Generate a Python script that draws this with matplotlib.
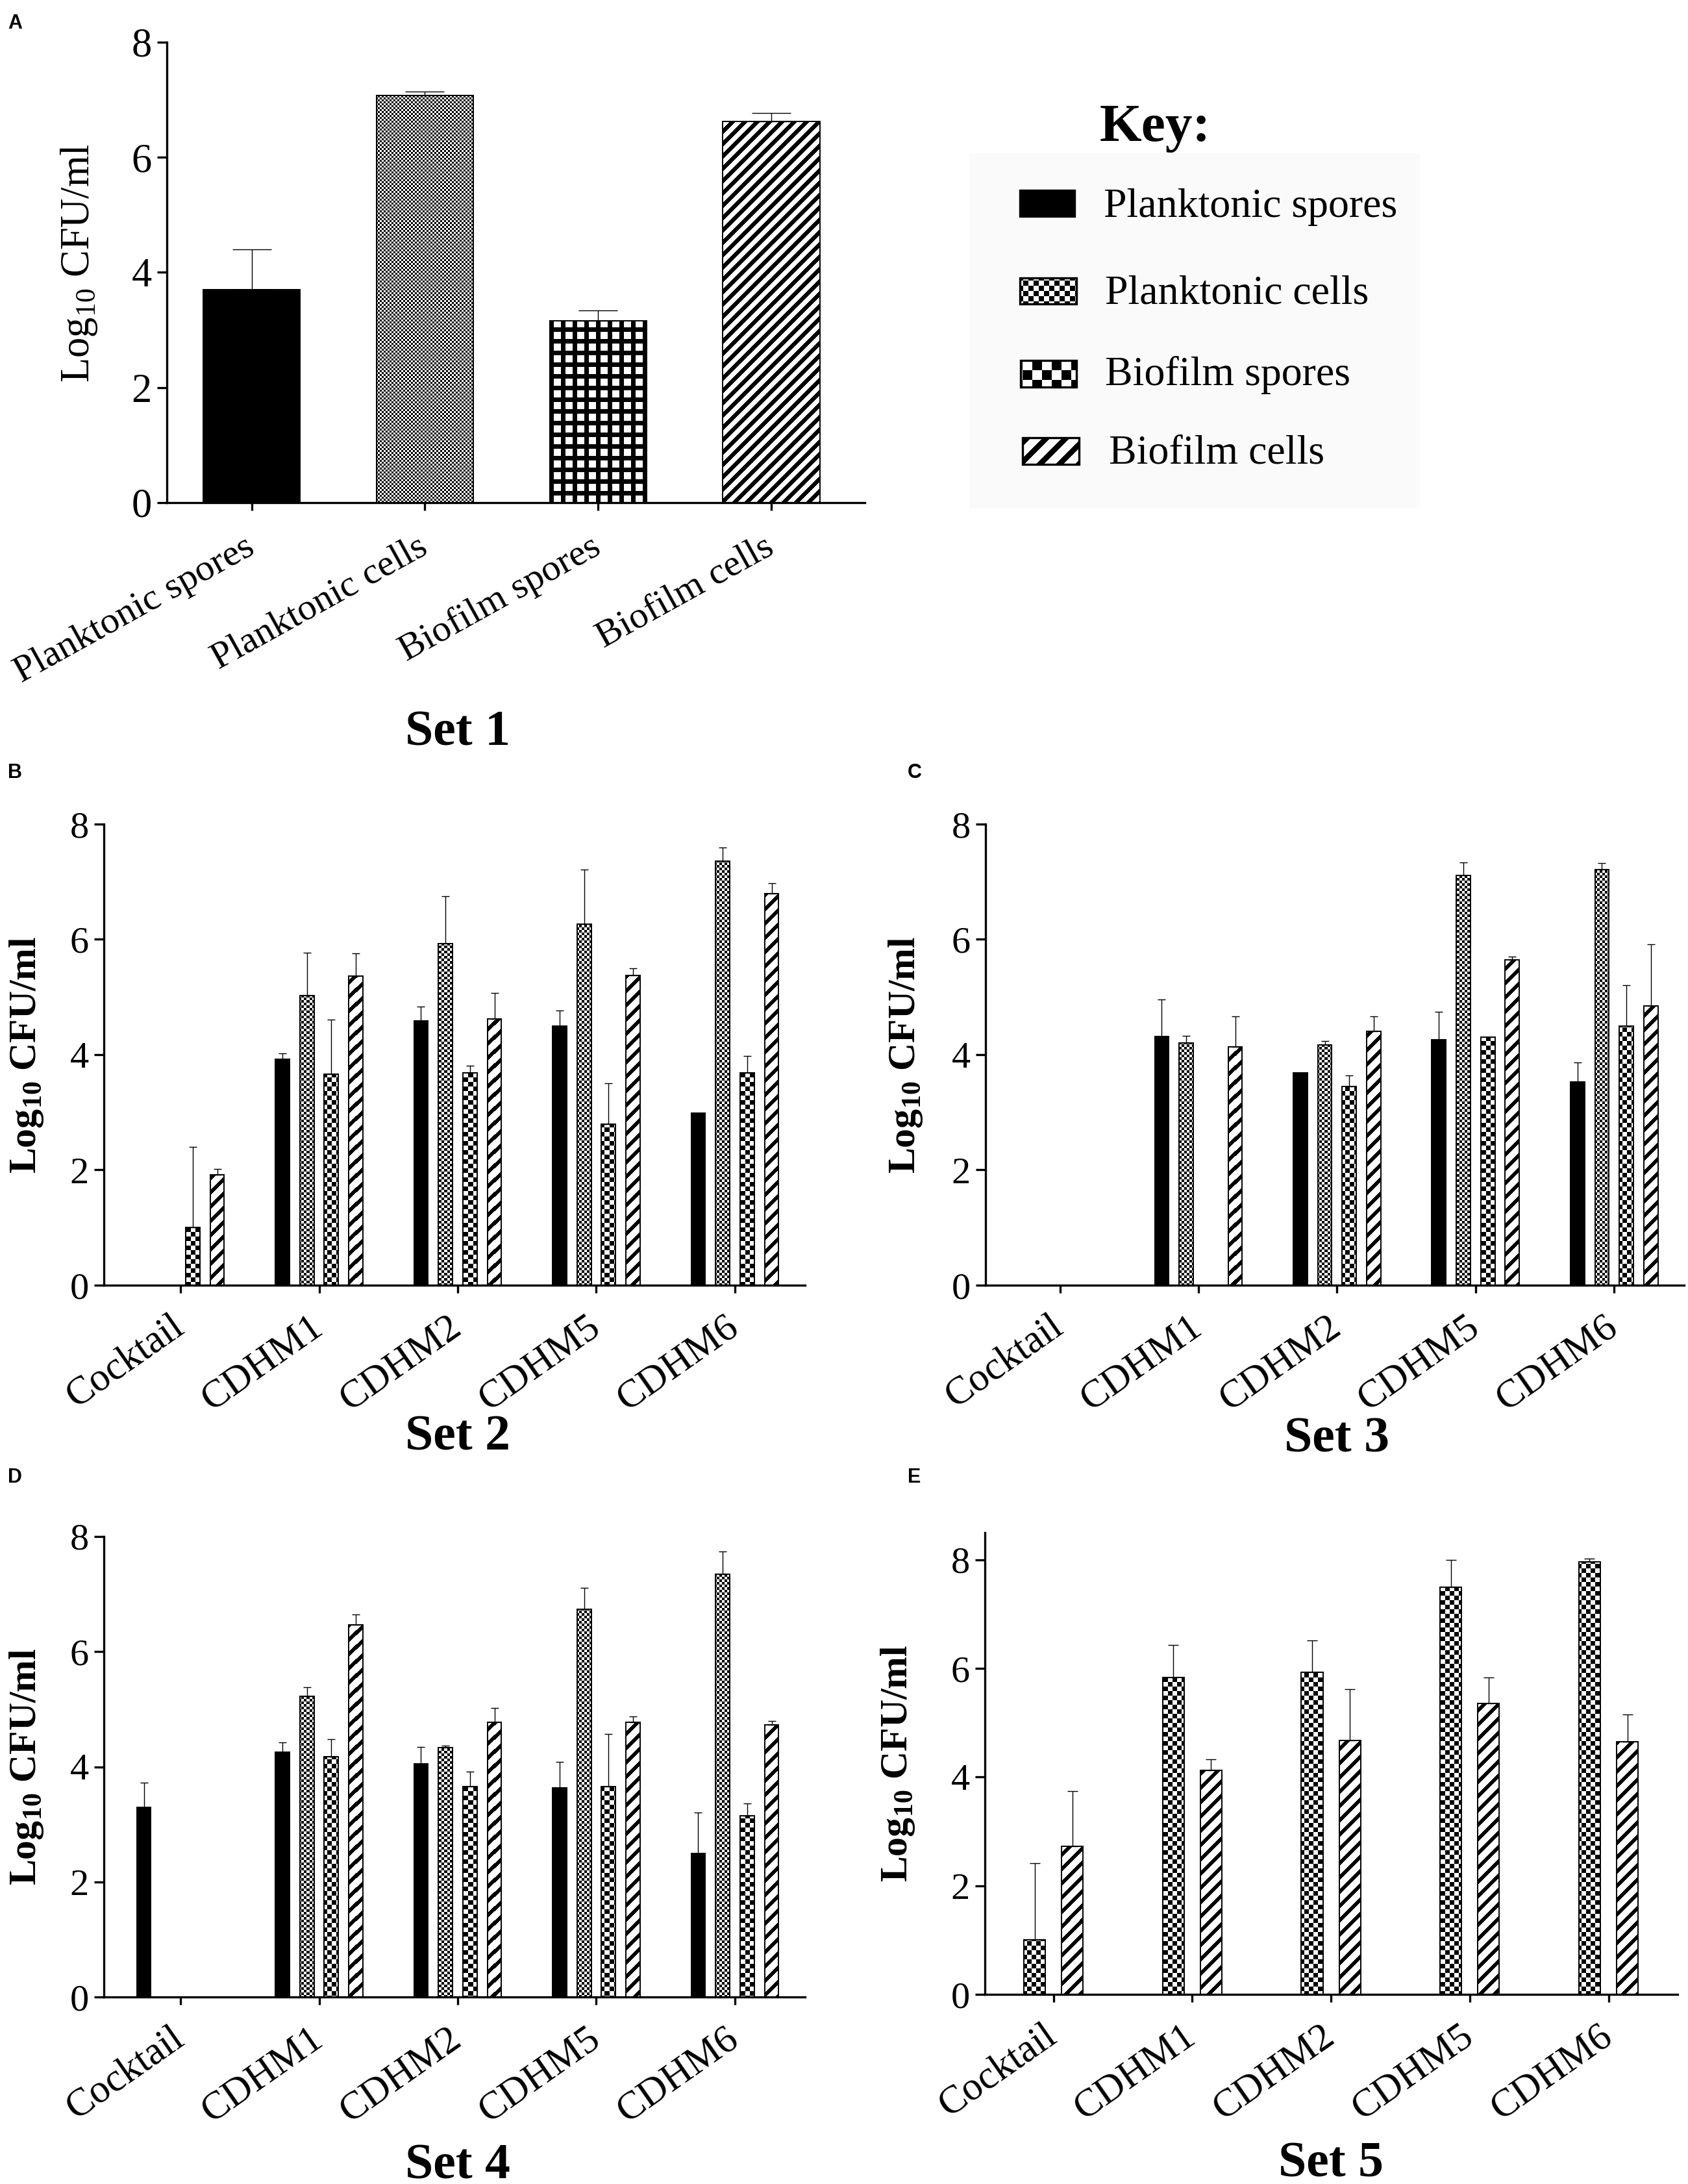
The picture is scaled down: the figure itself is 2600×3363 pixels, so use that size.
import numpy as np
import matplotlib
matplotlib.use('Agg')
import matplotlib.pyplot as plt
from matplotlib.colors import ListedColormap
from matplotlib.patches import Rectangle

plt.rcParams['font.family'] = 'Liberation Serif'
plt.rcParams['mathtext.fontset'] = 'custom'
plt.rcParams['mathtext.rm'] = 'Liberation Serif'
plt.rcParams['mathtext.bf'] = 'Liberation Serif:bold'

W, H, DPI = 2600, 3363, 200
nan = np.nan

# ---- data ----
series = ['Planktonic spores', 'Planktonic cells', 'Biofilm spores', 'Biofilm cells']
strains = ['Cocktail', 'CDHM1', 'CDHM2', 'CDHM5', 'CDHM6']

# Set 1 (one value per series)
set1_mean = [3.70, 7.07, 3.16, 6.62]
set1_err = [0.70, 0.07, 0.18, 0.15]

# Set 2
set2_ps = [nan, 3.92, 4.59, 4.50, 2.99]
set2_ps_err = [nan, 0.10, 0.24, 0.27, nan]
set2_pc = [nan, 5.02, 5.93, 6.26, 7.36]
set2_pc_err = [nan, 0.75, 0.82, 0.95, 0.23]
set2_bs = [1.00, 3.66, 3.69, 2.79, 3.69]
set2_bs_err = [1.40, 0.95, 0.12, 0.71, 0.29]
set2_bc = [1.92, 5.36, 4.62, 5.38, 6.79]
set2_bc_err = [0.10, 0.40, 0.45, 0.12, 0.18]

# Set 3
set3_ps = [nan, 4.31, 3.69, 4.26, 3.53]
set3_ps_err = [nan, 0.65, nan, 0.48, 0.34]
set3_pc = [nan, 4.20, 4.17, 7.11, 7.21]
set3_pc_err = [nan, 0.13, 0.07, 0.23, 0.11]
set3_bs = [nan, nan, 3.45, 4.30, 4.50]
set3_bs_err = [nan, nan, 0.19, nan, 0.71]
set3_bc = [nan, 4.13, 4.41, 5.64, 4.85]
set3_bc_err = [nan, 0.53, 0.26, 0.06, 1.06]

# Set 4
set4_ps = [3.30, 4.25, 4.05, 3.63, 2.49]
set4_ps_err = [0.42, 0.17, 0.29, 0.46, 0.72]
set4_pc = [nan, 5.22, 4.33, 6.74, 7.34]
set4_pc_err = [nan, 0.16, 0.04, 0.37, 0.40]
set4_bs = [nan, 4.18, 3.66, 3.66, 3.15]
set4_bs_err = [nan, 0.30, 0.26, 0.91, 0.21]
set4_bc = [nan, 6.47, 4.77, 4.77, 4.73]
set4_bc_err = [nan, 0.18, 0.25, 0.11, 0.06]

# Set 5 (biofilm only)
set5_bs = [1.01, 5.83, 5.93, 7.49, 7.96]
set5_bs_err = [1.40, 0.60, 0.59, 0.51, 0.06]
set5_bc = [2.72, 4.13, 4.67, 5.35, 4.65]
set5_bc_err = [1.02, 0.20, 0.95, 0.49, 0.50]

bw = ListedColormap(['white', 'black'])


def pattern(kind, X, Y, s):
    if kind == 'fine':
        return ((X // s['fine'] + Y // s['fine']) % 2).astype(float)
    if kind == 'coarse':
        return ((X // s['coarse'] + Y // s['coarse']) % 2).astype(float)
    if kind == 'grid':
        p, t = s['grid']
        return ((X % p < t) | (Y % p < t)).astype(float)
    if kind == 'stripe':
        p, t = s['stripe']
        return (((X + Y) % p) < t).astype(float)
    return np.ones_like(X, dtype=float)


def fill_pattern(ax, x0, x1, y0, y1, kind, s, z=1.9):
    # paint a pixel-exact pattern image inside a bar's box
    pts = ax.transData.transform([(x0, y0), (x1, y1)])
    left, right = sorted(pts[:, 0])
    bot, top = sorted(pts[:, 1])
    c0, c1 = int(round(left)), int(round(right))
    r0, r1 = int(round(H - top)), int(round(H - bot))
    if c1 <= c0 or r1 <= r0:
        return
    X, Y = np.meshgrid(np.arange(c0, c1), np.arange(r0, r1))
    arr = pattern(kind, X, Y, s)
    inv = ax.transData.inverted()
    (ex0, eb), (ex1, et) = inv.transform([(c0, H - r1), (c1, H - r0)])
    ax.imshow(arr, cmap=bw, vmin=0, vmax=1, extent=(ex0, ex1, eb, et),
              origin='upper', aspect='auto', interpolation='nearest', zorder=z)


def px_rect(left, right, top, bottom):
    return [left / W, 1 - bottom / H, (right - left) / W, (bottom - top) / H]


def style_axes(ax, xlim, ylim, xt, xlabels, rot, tick_fs, xl_fs, xpad):
    ax.set_xlim(*xlim)
    ax.set_ylim(*ylim)
    for sp in ['top', 'right']:
        ax.spines[sp].set_visible(False)
    for sp in ['left', 'bottom']:
        ax.spines[sp].set_linewidth(1.2)
    ax.set_yticks([0, 2, 4, 6, 8])
    ax.set_xticks(xt)
    ax.set_xticklabels(xlabels, rotation=rot, ha='right', va='center',
                       rotation_mode='anchor', fontsize=xl_fs)
    ax.tick_params(axis='y', direction='out', length=5.4, width=1.2,
                   labelsize=tick_fs, pad=3)
    ax.tick_params(axis='x', direction='out', length=4.3, width=1.2, pad=xpad)


def draw_group(ax, x, vals, errs, kind, s, width, capsize):
    vals = np.asarray(vals, dtype=float)
    errs = np.asarray(errs, dtype=float)
    ok = np.isfinite(vals)
    fc = 'black' if kind == 'solid' else 'none'
    bars = ax.bar(x[ok], vals[ok], width, facecolor=fc, edgecolor='black',
                  linewidth=0.7, zorder=2)
    if kind != 'solid':
        for b in bars:
            fill_pattern(ax, b.get_x(), b.get_x() + b.get_width(), 0, b.get_height(), kind, s)
    ek = ok & np.isfinite(errs)
    if ek.any():
        ax.errorbar(x[ek], vals[ek], yerr=[np.zeros(ek.sum()), errs[ek]], fmt='none',
                    ecolor='black', elinewidth=0.5, capsize=capsize, capthick=0.5, zorder=2.1)


fig = plt.figure(figsize=(W / DPI, H / DPI), dpi=DPI)

# ---- panel A ----
sA = {'fine': 3, 'grid': (18, 7), 'stripe': (19, 9)}
kindsA = ['solid', 'fine', 'grid', 'stripe']
axA = fig.add_axes(px_rect(257, 1332, 65, 774))
xA = np.arange(len(series))
style_axes(axA, (-0.49, 3.54), (0, 8), xA, series, 29, 22.5, 21, 19)
for i, k in enumerate(kindsA):
    draw_group(axA, xA[i:i + 1], set1_mean[i:i + 1], set1_err[i:i + 1], k, sA, 0.56, 10.8)
axA.set_ylabel(r'Log$_{10}$ CFU/ml', fontsize=22.5)
axA.yaxis.set_label_coords(-0.097, 0.52)
axA.set_xlim(-0.49, 3.54)
axA.set_ylim(0, 8)

# ---- panels B-E ----
sB = {'fine': 4, 'coarse': 7, 'stripe': (22, 8)}
kinds4 = ['solid', 'fine', 'coarse', 'stripe']
xs = np.arange(len(strains))

panels = [
    ((160, 1240, 1269, 1979), (-0.553, 4.506), (0, 8), -0.083,
     [(set2_ps, set2_ps_err), (set2_pc, set2_pc_err), (set2_bs, set2_bs_err), (set2_bc, set2_bc_err)]),
    ((1518, 2594, 1269, 1979), (-0.537, 4.505), (0, 8), -0.087,
     [(set3_ps, set3_ps_err), (set3_pc, set3_pc_err), (set3_bs, set3_bs_err), (set3_bc, set3_bc_err)]),
    ((160, 1240, 2366, 3075), (-0.553, 4.506), (0, 8), -0.083,
     [(set4_ps, set4_ps_err), (set4_pc, set4_pc_err), (set4_bs, set4_bs_err), (set4_bc, set4_bc_err)]),
]

for rect, xlim, ylim, lab_x, groups in panels:
    ax = fig.add_axes(px_rect(*rect))
    style_axes(ax, xlim, ylim, xs, strains, 35, 21, 22, 17)
    for k, (vals, errs) in enumerate(groups):
        off = (k - 1.5) * 0.1766
        draw_group(ax, xs + off, vals, errs, kinds4[k], sB, 0.102, 2.0)
    ax.set_ylabel(r'Log$_{\mathbf{10}}$ CFU/ml', fontsize=21.5, fontweight='bold')
    ax.yaxis.set_label_coords(lab_x, 0.5)
    ax.set_xlim(*xlim)
    ax.set_ylim(*ylim)

axE = fig.add_axes(px_rect(1517, 2584, 2360, 3071))
style_axes(axE, (-0.494, 4.498), (0, 8.5), xs, strains, 35, 21, 22, 17)
draw_group(axE, xs - 0.136, set5_bs, set5_bs_err, 'coarse', sB, 0.155, 2.8)
draw_group(axE, xs + 0.136, set5_bc, set5_bc_err, 'stripe', sB, 0.155, 2.8)
axE.set_ylabel(r'Log$_{\mathbf{10}}$ CFU/ml', fontsize=21.5, fontweight='bold')
axE.yaxis.set_label_coords(-0.098, 0.5)
axE.set_xlim(-0.494, 4.498)
axE.set_ylim(0, 8.5)

# ---- key ----
axK = fig.add_axes(px_rect(1480, 2200, 140, 800))
axK.set_xlim(1480, 2200)
axK.set_ylim(800, 140)
axK.axis('off')
axK.add_patch(Rectangle((1493, 236), 694, 547, facecolor='#fafafa', edgecolor='none', zorder=0))
axK.text(1779, 217, 'Key:', fontsize=30, fontweight='bold', ha='center', va='baseline')
sK = {'fine': 8, 'coarse': 15, 'stripe': (30, 12)}
key_boxes = [(1571, 293, 84, 40), (1571, 428, 87, 40), (1572, 555, 86, 41), (1575, 674, 87, 41)]
key_text = [(1700, 334), (1702, 468), (1702, 593), (1708, 714)]
for name, k, (bx, by, bw_, bh), (tx, ty) in zip(series, kinds4, key_boxes, key_text):
    fc = 'black' if k == 'solid' else 'none'
    axK.add_patch(Rectangle((bx, by), bw_, bh, facecolor=fc, edgecolor='black',
                            linewidth=1.2, zorder=2))
    if k != 'solid':
        fill_pattern(axK, bx, bx + bw_, by, by + bh, k, sK, z=1.5)
    axK.text(tx, ty, name, fontsize=23, ha='left', va='baseline')
axK.set_xlim(1480, 2200)
axK.set_ylim(800, 140)

# ---- set titles and panel letters ----
set_titles = [('Set 1', 705, 1148), ('Set 2', 705, 2232), ('Set 3', 2059, 2236),
              ('Set 4', 705, 3354), ('Set 5', 2050, 3351)]
for t, x, y in set_titles:
    fig.text(x / W, 1 - y / H, t, fontsize=28, fontweight='bold', ha='center', va='baseline')

letters = [('A', 12, 44), ('B', 12, 1198), ('C', 1398, 1198), ('D', 12, 2283), ('E', 1398, 2283)]
for t, x, y in letters:
    fig.text(x / W, 1 - y / H, t, fontsize=11, fontweight='bold', family='Liberation Sans',
             ha='left', va='baseline')

fig.savefig('out.png', dpi=DPI)
